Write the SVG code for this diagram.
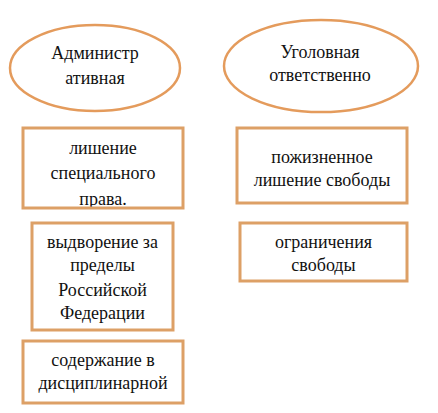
<svg xmlns="http://www.w3.org/2000/svg" width="438" height="413" viewBox="0 0 438 413">
<style>
.ell{fill:#fff;stroke:#E49B5C;stroke-width:2.5}
.box{fill:#fff;stroke:#DDA066;stroke-width:3}
.frame{fill:none;stroke:#DDA066;stroke-width:3}
</style>
<defs>
<clipPath id="c1"><rect x="23" y="128" width="160" height="79"/></clipPath>
</defs>
<rect width="438" height="413" fill="#fff"/>
<g id="connectors"/>
<g id="adm">
<ellipse class="ell" cx="95" cy="68" rx="85" ry="43"/>
<text style="font-family:'Times New Roman','Liberation Serif',serif;font-size:18px;fill:#111;text-anchor:middle" x="95" y="59">Администр</text>
<text style="font-family:'Times New Roman','Liberation Serif',serif;font-size:18px;fill:#111;text-anchor:middle" x="95" y="84">ативная</text>
</g>
<g id="ugol">
<ellipse class="ell" cx="321" cy="66" rx="97" ry="46"/>
<text style="font-family:'Times New Roman','Liberation Serif',serif;font-size:18px;fill:#111;text-anchor:middle" x="320" y="58">Уголовная</text>
<text style="font-family:'Times New Roman','Liberation Serif',serif;font-size:18px;fill:#111;text-anchor:middle" x="320" y="81">ответственно</text>
</g>
<g id="lishenie">
<rect x="23" y="128" width="160" height="80" fill="#fff"/>
<g clip-path="url(#c1)">
<text style="font-family:'Times New Roman','Liberation Serif',serif;font-size:18px;fill:#111;text-anchor:middle" x="103" y="154">лишение</text>
<text style="font-family:'Times New Roman','Liberation Serif',serif;font-size:18px;fill:#111;text-anchor:middle" x="103" y="179">специального</text>
<text style="font-family:'Times New Roman','Liberation Serif',serif;font-size:18px;fill:#111;text-anchor:middle" x="103" y="205">права.</text>
</g>
<rect class="frame" x="23" y="128" width="160" height="80"/>
</g>
<g id="vydvorenie">
<rect class="box" x="32" y="223" width="141" height="107"/>
<text style="font-family:'Times New Roman','Liberation Serif',serif;font-size:18px;fill:#111;text-anchor:middle" x="102.5" y="248">выдворение за</text>
<text style="font-family:'Times New Roman','Liberation Serif',serif;font-size:18px;fill:#111;text-anchor:middle" x="102.5" y="271">пределы</text>
<text style="font-family:'Times New Roman','Liberation Serif',serif;font-size:18px;fill:#111;text-anchor:middle" x="102.5" y="296">Российской</text>
<text style="font-family:'Times New Roman','Liberation Serif',serif;font-size:18px;fill:#111;text-anchor:middle" x="102.5" y="319">Федерации</text>
</g>
<g id="soderzhanie">
<rect class="box" x="23" y="341" width="160" height="62"/>
<text style="font-family:'Times New Roman','Liberation Serif',serif;font-size:18px;fill:#111;text-anchor:middle" x="103" y="366">содержание в</text>
<text style="font-family:'Times New Roman','Liberation Serif',serif;font-size:18px;fill:#111;text-anchor:middle" x="103" y="389">дисциплинарной</text>
</g>
<g id="pozhiz">
<rect class="box" x="237" y="128" width="170" height="75"/>
<text style="font-family:'Times New Roman','Liberation Serif',serif;font-size:18px;fill:#111;text-anchor:middle" x="322" y="163">пожизненное</text>
<text style="font-family:'Times New Roman','Liberation Serif',serif;font-size:18px;fill:#111;text-anchor:middle" x="322" y="186">лишение свободы</text>
</g>
<g id="ogranich">
<rect class="box" x="240" y="223" width="167" height="58"/>
<text style="font-family:'Times New Roman','Liberation Serif',serif;font-size:18px;fill:#111;text-anchor:middle" x="323.5" y="248">ограничения</text>
<text style="font-family:'Times New Roman','Liberation Serif',serif;font-size:18px;fill:#111;text-anchor:middle" x="323.5" y="271">свободы</text>
</g>
</svg>
